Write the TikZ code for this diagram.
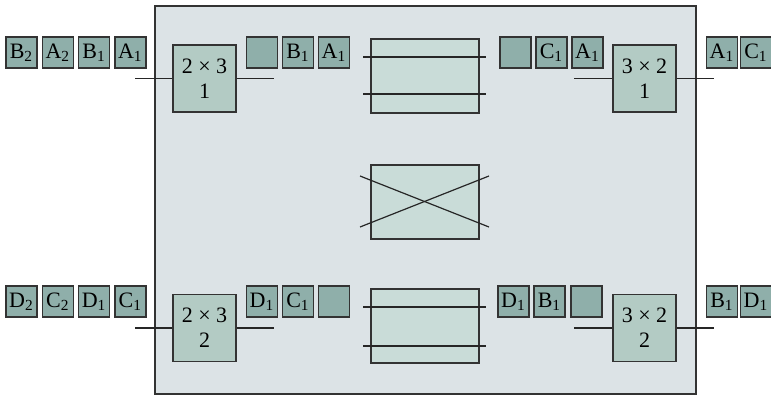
\documentclass[tikz,border=0pt]{standalone}
\usepackage{fontspec}
\setmainfont{Liberation Serif}

\definecolor{panelfill}{HTML}{DCE3E6}
\definecolor{pktfill}{HTML}{8FAFAA}
\definecolor{swfill}{HTML}{B3CBC4}
\definecolor{xbfill}{HTML}{C9DCD8}

\begin{document}
\begin{tikzpicture}[x=0.5pt,y=-0.5pt,
    every node/.style={font=\fontsize{11}{12.5}\selectfont},
    packet/.style={draw=black!80, fill=pktfill, line width=0.6pt, minimum width=15.5pt, minimum height=15.5pt, inner sep=0pt},
    switch/.style={draw=black!80, fill=swfill, line width=0.6pt, minimum width=31.5pt, minimum height=33.5pt, inner sep=0pt, align=center},
    xbar/.style={draw=black!80, fill=xbfill, line width=0.6pt, minimum width=54pt, minimum height=37pt, inner sep=0pt},
    wire/.style={line width=0.6pt, black!85}]
    \useasboundingbox (0,0) rectangle (771,395);

    % Switch panel
    \filldraw[fill=panelfill, draw=black!80, line width=0.6pt] (155,6) rectangle (696,394);

    % Input packets
    \node[packet] (inB2) at (21.5,52.5) {B\textsubscript{2}};
    \node[packet] (inA2) at (57.8,52.5) {A\textsubscript{2}};
    \node[packet] (inB1) at (94.1,52.5) {B\textsubscript{1}};
    \node[packet] (inA1) at (130.4,52.5) {A\textsubscript{1}};
    \node[packet] (inD2) at (21.5,301.5) {D\textsubscript{2}};
    \node[packet] (inC2) at (57.8,301.5) {C\textsubscript{2}};
    \node[packet] (inD1) at (94.1,301.5) {D\textsubscript{1}};
    \node[packet] (inC1) at (130.4,301.5) {C\textsubscript{1}};

    % Input stage switches
    \node[switch] (in1) at (204.5,78.5) {2 × 3\\1};
    \node[switch] (in2) at (204.5,328) {2 × 3\\2};
    \coordinate (in1L) at (135,78.5);
    \coordinate (in1R) at (274,78.5);
    \coordinate (in2L) at (135,328);
    \coordinate (in2R) at (274,328);
    \draw[wire] (in1L) -- (in1.west);
    \draw[wire] (in1.east) -- (in1R);
    \draw[wire] (in2L) -- (in2.west);
    \draw[wire] (in2.east) -- (in2R);

    % Packets after input stage
    \node[packet] (m1e) at (262,52.5) {};
    \node[packet] (m1B) at (298,52.5) {B\textsubscript{1}};
    \node[packet] (m1A) at (334,52.5) {A\textsubscript{1}};
    \node[packet] (m2D) at (262,301.5) {D\textsubscript{1}};
    \node[packet] (m2C) at (298,301.5) {C\textsubscript{1}};
    \node[packet] (m2e) at (334,301.5) {};

    % Middle stage
    \node[xbar] (mid1) at (425,76) {};
    \node[xbar] (mid2) at (425,202) {};
    \node[xbar] (mid3) at (425,326) {};
    \coordinate (a1) at (363,57);  \coordinate (b1) at (486,57);
    \coordinate (a2) at (363,94);  \coordinate (b2) at (486,94);
    \coordinate (c1) at (360,176); \coordinate (d1) at (489,227);
    \coordinate (c2) at (360,227); \coordinate (d2) at (489,176);
    \coordinate (e1) at (363,307); \coordinate (f1) at (486,307);
    \coordinate (e2) at (363,346); \coordinate (f2) at (486,346);
    \draw[wire] (a1) -- (b1);
    \draw[wire] (a2) -- (b2);
    \draw[wire] (c1) -- (d1);
    \draw[wire] (c2) -- (d2);
    \draw[wire] (e1) -- (f1);
    \draw[wire] (e2) -- (f2);

    % Packets before output stage
    \node[packet] (o1e) at (515.5,52.5) {};
    \node[packet] (o1C) at (551.5,52.5) {C\textsubscript{1}};
    \node[packet] (o1A) at (587.5,52.5) {A\textsubscript{1}};
    \node[packet] (o2D) at (513.5,301.5) {D\textsubscript{1}};
    \node[packet] (o2B) at (549.5,301.5) {B\textsubscript{1}};
    \node[packet] (o2e) at (586.5,301.5) {};

    % Output stage switches
    \node[switch] (out1) at (644.5,78.5) {3 × 2\\1};
    \node[switch] (out2) at (644.5,328) {3 × 2\\2};
    \coordinate (out1L) at (574,78.5);
    \coordinate (out1R) at (714,78.5);
    \coordinate (out2L) at (574,328);
    \coordinate (out2R) at (714,328);
    \draw[wire] (out1L) -- (out1.west);
    \draw[wire] (out1.east) -- (out1R);
    \draw[wire] (out2L) -- (out2.west);
    \draw[wire] (out2.east) -- (out2R);

    % Output packets
    \node[packet] (outA1) at (722,52.5) {A\textsubscript{1}};
    \node[packet] (outC1) at (756,52.5) {C\textsubscript{1}};
    \node[packet] (outB1) at (722,301.5) {B\textsubscript{1}};
    \node[packet] (outD1) at (756,301.5) {D\textsubscript{1}};
\end{tikzpicture}
\end{document}
